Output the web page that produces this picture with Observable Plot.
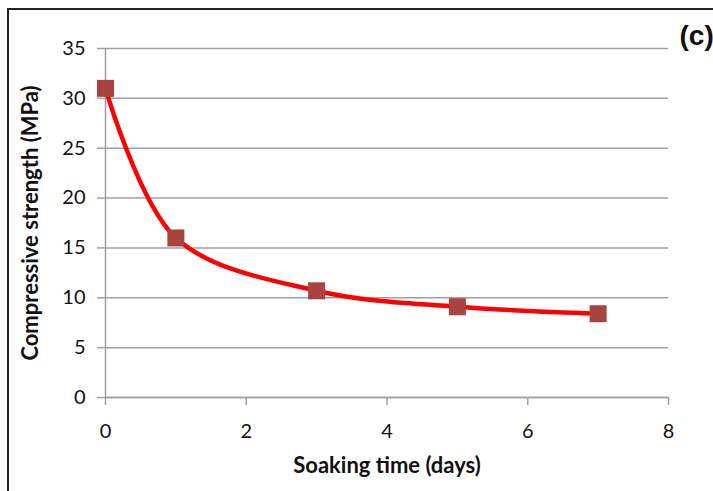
<!DOCTYPE html>
<html>
<head>
<meta charset="utf-8">
<script src="https://cdn.jsdelivr.net/npm/d3@7"></script>
<script src="https://cdn.jsdelivr.net/npm/@observablehq/plot@0.6"></script>
<style>
  html, body { margin: 0; padding: 0; background: #fff; }
  #wrap { position: relative; width: 713px; height: 491px; overflow: hidden; }
  #frame { position: absolute; left: 7px; top: 8px; right: -5px; bottom: -5px;
           border-left: 2px solid #222; border-top: 2px solid #222; pointer-events: none; }
</style>
</head>
<body>
<div id="wrap"><div id="frame"></div></div>
<script>
const soakingDays = [0, 1, 3, 5, 7];
const strengthMPa = [31.0, 16.0, 10.7, 9.1, 8.4];
const xTicks = [0, 2, 4, 6, 8];
const yTicks = [0, 5, 10, 15, 20, 25, 30, 35];
const xLabel = "Soaking time (days)";
const yLabel = "Compressive strength (MPa)";
const panelLabel = "(c)";

const data = soakingDays.map((d, i) => ({x: d, y: strengthMPa[i]}));

const grey = "#a0a0a0";
const chart = Plot.plot({
  width: 713,
  height: 491,
  marginLeft: 105,
  marginRight: 45,
  marginTop: 48,
  marginBottom: 94,
  style: {fontFamily: "Lato, sans-serif", fontSize: "20px", background: "transparent", overflow: "visible"},
  x: {domain: [0, 8]},
  y: {domain: [0, 35]},
  marks: [
    Plot.gridY(yTicks, {stroke: grey, strokeOpacity: 1, strokeWidth: 1.5}),
    Plot.ruleX([0], {stroke: grey, strokeWidth: 1.5}),
    Plot.ruleY([0], {stroke: grey, strokeWidth: 1.5}),
    Plot.axisY(yTicks, {tickSize: 8, tickPadding: 12, stroke: grey, strokeWidth: 1.5, strokeOpacity: 1, fill: "#111", label: null}),
    Plot.axisX(xTicks, {tickSize: 8, tickPadding: 18, stroke: grey, strokeWidth: 1.5, strokeOpacity: 1, fill: "#111", label: null}),
    Plot.line(data, {x: "x", y: "y", curve: "catmull-rom", stroke: "#ff0000", strokeWidth: 4.5}),
    Plot.dot(data, {x: "x", y: "y", symbol: "square", r: 9.6, fill: "#a8443f", stroke: null}),
    Plot.text([xLabel], {frameAnchor: "bottom", dy: 75, fontWeight: "bold", fontSize: 22, fill: "#111"}),
    Plot.text([yLabel], {frameAnchor: "left", dx: -75, rotate: -90, textAnchor: "middle", fontWeight: "bold", fontSize: 22, fill: "#111"}),
    Plot.text([panelLabel], {frameAnchor: "top-right", dx: 11, dy: -23, textAnchor: "start", fontFamily: "Liberation Sans, Arial, sans-serif", fontWeight: "bold", fontSize: 28, fill: "#111"})
  ]
});
document.getElementById("wrap").prepend(chart);
</script>
</body>
</html>
